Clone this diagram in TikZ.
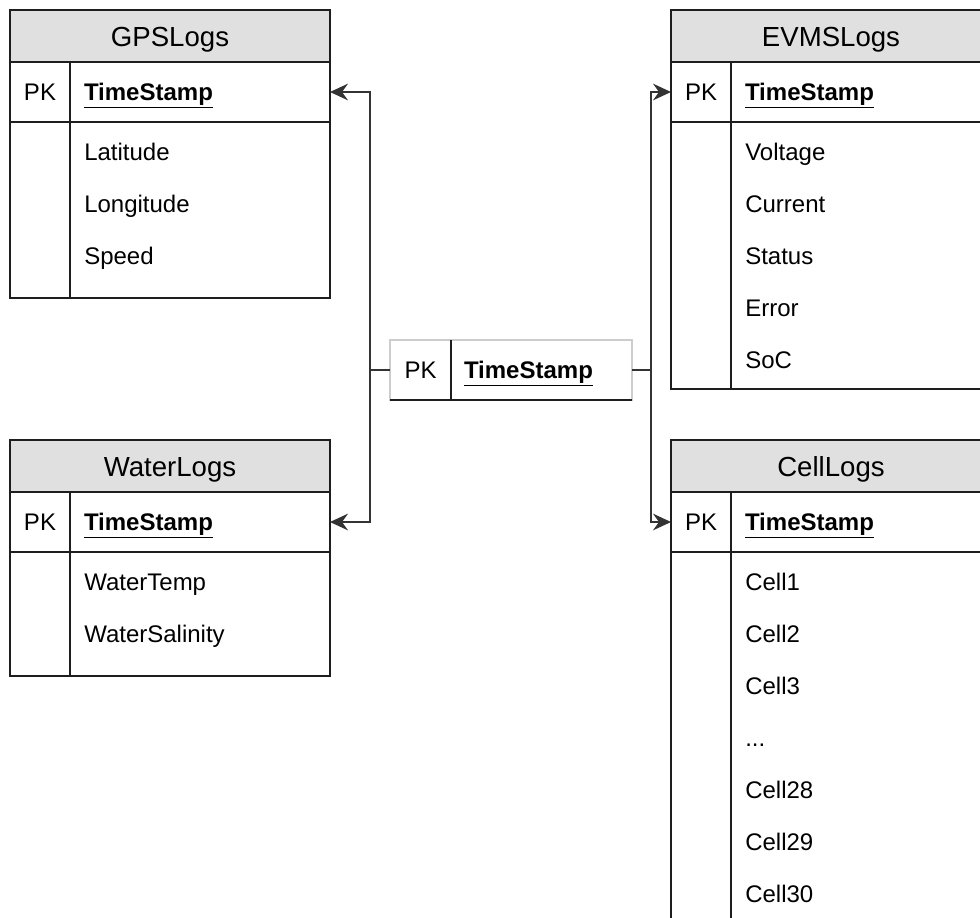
\documentclass[tikz,border=0pt]{standalone}
\usepackage{fontspec}
\setmainfont{Liberation Sans}
\usetikzlibrary{arrows.meta,
                positioning}

\definecolor{hdrfill}{RGB}{224,224,224}
\definecolor{boxline}{RGB}{30,30,30}
\definecolor{faintline}{RGB}{205,205,205}
\newcommand\skipdots{...}

\begin{document}
\begin{tikzpicture}[
    x=0.75pt, y=-0.75pt,
        title/.style = {draw=boxline, line width=1pt, fill=hdrfill, anchor=north west,
                        minimum width=240pt, minimum height=39pt, inner sep=0pt, outer sep=0pt,
                        text height=15pt, text depth=0pt,
                        font=\fontsize{20.7}{24}\selectfont},
        pkcell/.style = {draw=boxline, line width=1pt, minimum width=45pt, minimum height=45pt,
                        inner sep=0pt, outer sep=0pt, text height=12.9pt, text depth=0pt,
                        font=\fontsize{18}{22}\selectfont},
        keycell/.style = {pkcell, minimum width=195pt, text width=174pt, align=left,
                        font=\fontsize{18}{22}\selectfont\bfseries},
        field/.style = {anchor=base west, inner sep=0pt, font=\fontsize{18}{22}\selectfont},
        body/.style = {draw=boxline, line width=1pt},
        link/.style = {draw=black!80, line width=1pt,
                       -{Stealth[length=13.5pt, width=12.5pt, inset=4.5pt]}}
        ]

    \useasboundingbox (0,0) rectangle (980,917);
    \clip (0,0) rectangle (980,917);

    % GPS table
    \node[title] (gps) at (10,10) {GPSLogs};
    \node[pkcell, below right=0pt and 0pt of gps.south west] (gps-pk) {PK};
    \node[keycell, right=0pt of gps-pk] (gps-key) {\underline{TimeStamp}};
    \draw[body] (gps-pk.south west) rectangle ++(320,176);
    \draw[body] (gps-pk.south east) -- ++(0,176);
    \foreach \f [count=\i] in {Latitude, Longitude, Speed}
        \node[field] at (84,108+52*\i) {\f};

    % Water table
    \node[title] (water) at (10,440) {WaterLogs};
    \node[pkcell, below right=0pt and 0pt of water.south west] (water-pk) {PK};
    \node[keycell, right=0pt of water-pk] (water-key) {\underline{TimeStamp}};
    \draw[body] (water-pk.south west) rectangle ++(320,124);
    \draw[body] (water-pk.south east) -- ++(0,124);
    \foreach \f [count=\i] in {WaterTemp, WaterSalinity}
        \node[field] at (84,538+52*\i) {\f};

    % EVMS table
    \node[title] (evms) at (671,10) {EVMSLogs};
    \node[pkcell, below right=0pt and 0pt of evms.south west] (evms-pk) {PK};
    \node[keycell, right=0pt of evms-pk] (evms-key) {\underline{TimeStamp}};
    \draw[body] (evms-pk.south west) rectangle ++(320,267);
    \draw[body] (evms-pk.south east) -- ++(0,267);
    \foreach \f [count=\i] in {Voltage, Current, Status, Error, SoC}
        \node[field] at (745,108+52*\i) {\f};

    % Cell table
    \node[title] (cell) at (671,440) {CellLogs};
    \node[pkcell, below right=0pt and 0pt of cell.south west] (cell-pk) {PK};
    \node[keycell, right=0pt of cell-pk] (cell-key) {\underline{TimeStamp}};
    \draw[body] (cell-pk.south west) rectangle ++(320,450);
    \draw[body] (cell-pk.south east) -- ++(0,450);
    \foreach \f [count=\i] in {Cell1, Cell2, Cell3, \skipdots, Cell28, Cell29, Cell30}
        \node[field] at (745,538+52*\i) {\f};

    % shared key in the middle
    \node[pkcell, draw=faintline, anchor=north west, minimum width=45.75pt] (ts-pk) at (390,340) {PK};
    \node[keycell, draw=faintline, minimum width=135.75pt, text width=116.25pt,
          right=0pt of ts-pk] (ts-key) {\underline{TimeStamp}};
    \draw[body] (ts-pk.south west) -- (ts-key.south east);
    \draw[body] (ts-pk.north east) -- (ts-pk.south east);

    % links
    \draw[link] (ts-pk.west) -- ++(-20,0) |- (gps-key.east);
    \draw[link] (ts-pk.west) -- ++(-20,0) |- (water-key.east);
    \draw[link] (ts-key.east) -- ++(19,0) |- (evms-pk.west);
    \draw[link] (ts-key.east) -- ++(19,0) |- (cell-pk.west);

\end{tikzpicture}
\end{document}
